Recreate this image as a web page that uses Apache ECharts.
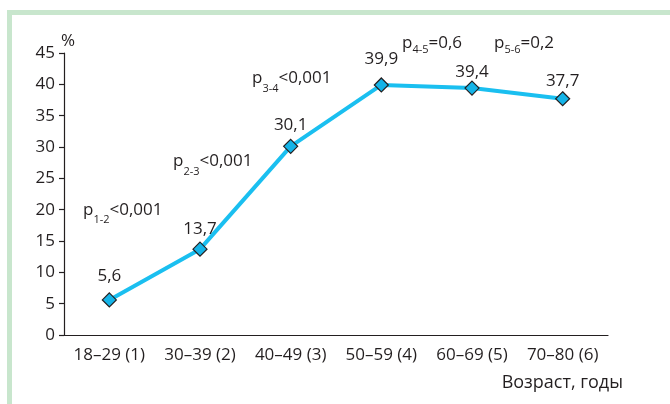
<!DOCTYPE html>
<html><head><meta charset="utf-8">
<script src="https://cdn.jsdelivr.net/npm/echarts@6/dist/echarts.min.js"></script>
<style>html,body{margin:0;padding:0;background:#fff}#c{width:670px;height:404px}</style>
</head><body><div id="c"></div>
<script>
// ---- data ----
const categories = ['18–29 (1)', '30–39 (2)', '40–49 (3)', '50–59 (4)', '60–69 (5)', '70–80 (6)'];
const values = [5.6, 13.7, 30.1, 39.9, 39.4, 37.7];
const valueLabels = ['5,6', '13,7', '30,1', '39,9', '39,4', '37,7'];
const yMin = 0, yMax = 45, yInterval = 5;
const yName = '%';
const xName = 'Возраст, годы';
const pSubs = ['1-2', '2-3', '3-4', '4-5', '5-6'];
const pRests = ['<0,001', '<0,001', '<0,001', '=0,6', '=0,2'];

// ---- layout (not data) ----
const labelDist = [8, 4, 5, 10, 0, 1];
const pPos = [[83, 210], [173, 161], [252, 78], [402, 43], [494, 43]];
const pSubDrop = [20, 22, 22, 14, 14];

const FONT = '"Open Sans", "Noto Sans", sans-serif';
const INK = '#231f20';

const chart = echarts.init(document.getElementById('c'), null, {renderer: 'canvas'});

const graphics = [
  {type: 'rect', shape: {x: 7, y: 10, width: 663, height: 5}, style: {fill: '#c8e6cd'}, silent: true},
  {type: 'rect', shape: {x: 7, y: 10, width: 5, height: 394}, style: {fill: '#c8e6cd'}, silent: true},
  {type: 'text', right: 47, top: 374, style: {text: xName, fill: INK, font: '18px ' + FONT}}
];
pSubs.forEach((s, i) => {
  graphics.push({
    type: 'text', x: pPos[i][0], y: pPos[i][1],
    style: {
      text: '{m|p}{s|' + s + '}{m|' + pRests[i] + '}',
      textVerticalAlign: 'middle',
      rich: {
        m: {fontSize: 17, fontFamily: FONT, fill: INK},
        s: {fontSize: 11, fontFamily: FONT, fill: INK, padding: [pSubDrop[i], 0, 0, 0]}
      }
    }
  });
});

chart.setOption({
  backgroundColor: '#fff',
  animation: false,
  grid: {left: 64, right: 62, top: 53, bottom: 69, containLabel: false},
  xAxis: {
    type: 'category', data: categories, boundaryGap: true,
    axisLine: {lineStyle: {color: INK, width: 1.2}},
    axisTick: {length: 5, lineStyle: {color: INK, width: 1.2}},
    axisLabel: {color: INK, fontSize: 17, fontFamily: FONT, margin: 12, interval: 0}
  },
  yAxis: {
    type: 'value', min: yMin, max: yMax, interval: yInterval,
    name: yName, nameLocation: 'end', nameGap: 3,
    nameTextStyle: {color: INK, fontSize: 17, fontFamily: FONT, padding: [0, 0, 0, 8]},
    axisLine: {show: true, lineStyle: {color: INK, width: 1.2}},
    axisTick: {show: true, length: 5, lineStyle: {color: INK, width: 1.2}},
    axisLabel: {color: INK, fontSize: 17, fontFamily: FONT, margin: 9},
    splitLine: {show: false}
  },
  series: [{
    type: 'line',
    data: values.map((v, i) => ({
      value: v,
      label: {distance: labelDist[i]}
    })),
    symbol: 'diamond', symbolSize: 14,
    lineStyle: {color: '#1abff0', width: 4},
    itemStyle: {color: '#14b4e8', borderColor: INK, borderWidth: 1.2},
    label: {
      show: true, position: 'top', color: INK, fontSize: 17, fontFamily: FONT,
      formatter: p => valueLabels[p.dataIndex]
    },
    z: 3
  }],
  graphic: graphics
});
</script>
</body></html>
